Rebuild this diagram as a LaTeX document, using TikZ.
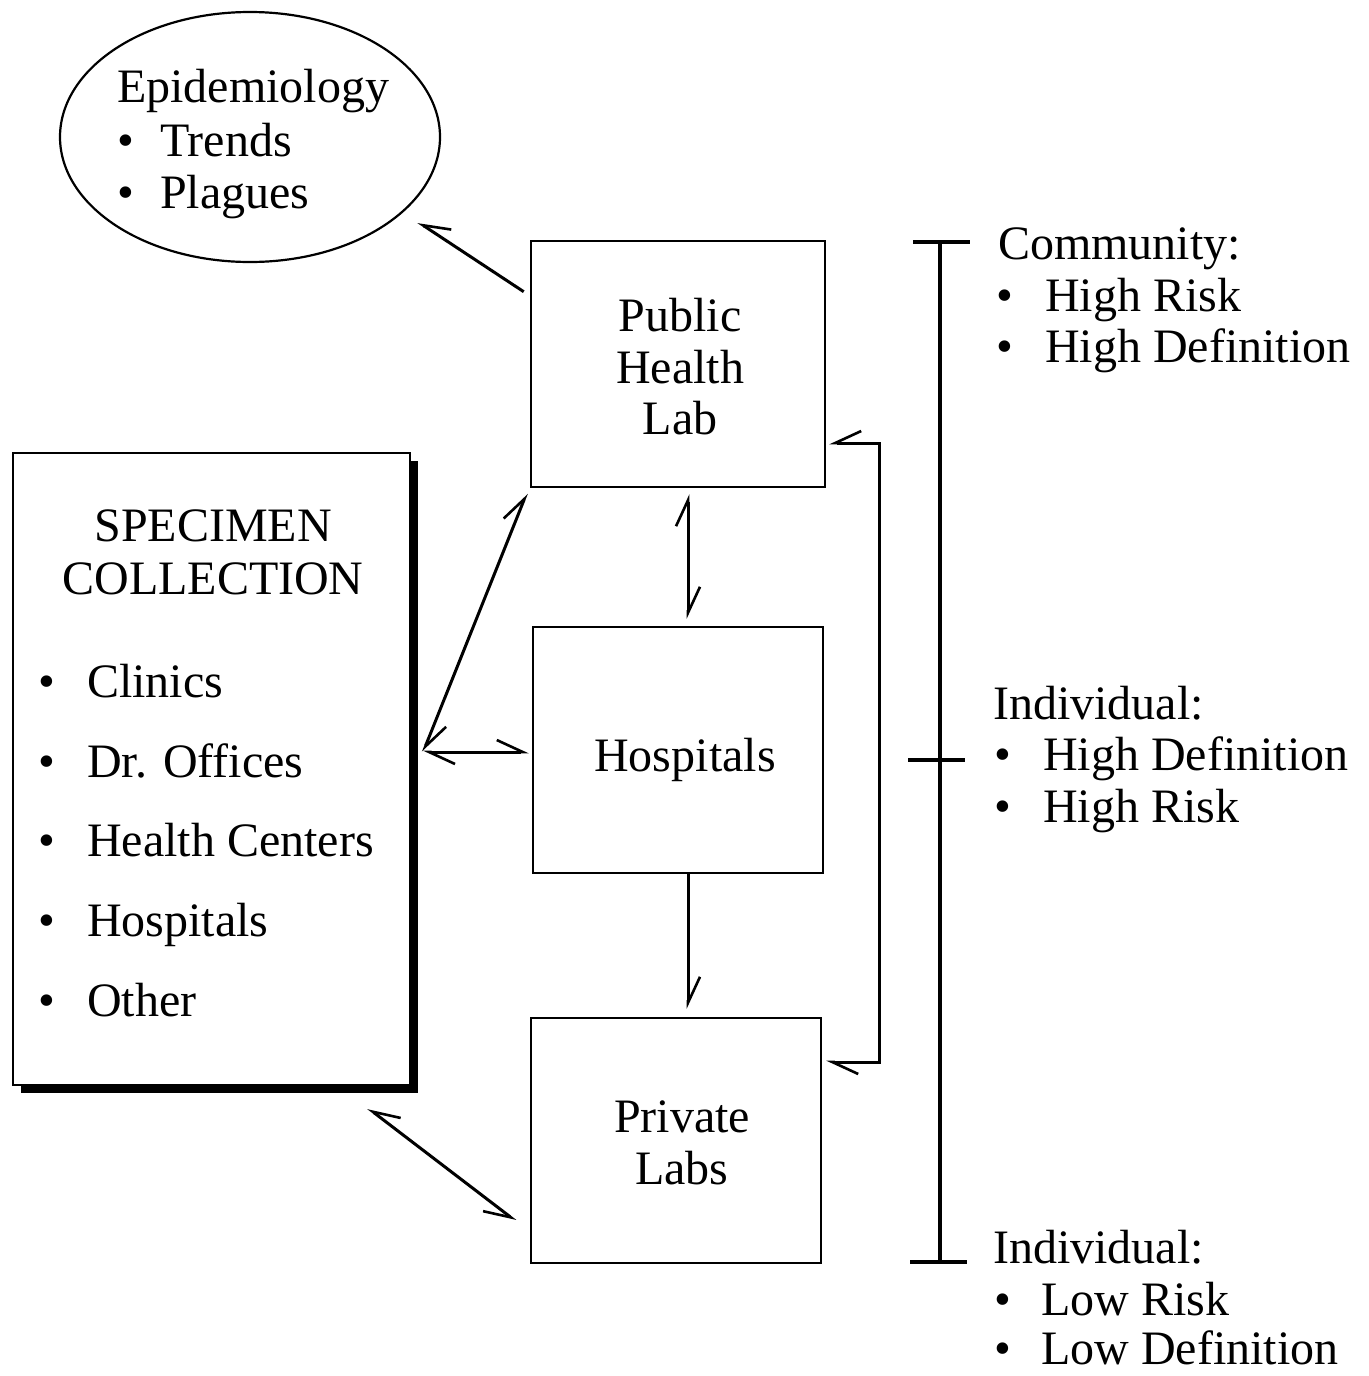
\documentclass[tikz,border=0pt]{standalone}
\usepackage{fontspec}
\setmainfont{Liberation Serif}
\usetikzlibrary{arrows.meta,shapes.geometric,shadows}
\tikzset{
  box/.style={draw, line width=2.6pt, rectangle, inner sep=0pt, fill=white},
  txt/.style={inner sep=0pt, anchor=base},
  ltxt/.style={inner sep=0pt, anchor=base west},
  conn/.style={line width=3pt},
  hl/.tip={Straight Barb[harpoon, length=26pt, width=24pt, line width=2.6pt]},
  hr/.tip={Straight Barb[harpoon, swap, length=26pt, width=24pt, line width=2.6pt]},
}
\newcommand{\bulitem}[2]{\makebox[#1][l]{\textbullet}#2}
\begin{document}
\begin{tikzpicture}[x=1pt, y=-1pt, font=\fontsize{48}{52}\selectfont]
\useasboundingbox (0,0) rectangle (1368,1376);
\fill[white] (0,0) rectangle (1368,1376);

% Epidemiology ellipse
\node[ellipse, draw, line width=2.2pt, minimum width=380pt, minimum height=250pt, inner sep=0pt] (epi) at (250,137) {};
\node[ltxt] (epi1) at (117,102) {Epidemiology};
\node[ltxt] (epi2) at (117,156) {\bulitem{43pt}{Trends}};
\node[ltxt] (epi3) at (117,208) {\bulitem{43pt}{Plagues}};

% central boxes
\node[box, minimum width=294pt, minimum height=246pt] (phl) at (678,364) {};
\node[txt] (phl1) at (680,331) {Public};
\node[txt] (phl2) at (680,383) {Health};
\node[txt] (phl3) at (680,434) {Lab};

\node[box, minimum width=290pt, minimum height=246pt] (hosp) at (678,750) {};
\node[txt] (hosp1) at (685,771) {Hospitals};

\node[box, minimum width=290pt, minimum height=245pt] (priv) at (676,1140.5) {};
\node[txt] (priv1) at (682,1132) {Private};
\node[txt] (priv2) at (682,1184) {Labs};

% specimen collection box with shadow
\node[box, line width=2.2pt, minimum width=397pt, minimum height=632pt,
  drop shadow={shadow xshift=8pt, shadow yshift=-8pt, fill=black, opacity=1}] (spec) at (211.5,769) {};
\node[txt] (spec1) at (213,541) {SPECIMEN};
\node[txt] (spec2) at (213,594) {COLLECTION};
\node[ltxt] (s1) at (38,697) {\bulitem{49pt}{Clinics}};
\node[ltxt] (s2) at (38,777) {\bulitem{49pt}{Dr. Offices}};
\node[ltxt] (s3) at (38,856) {\bulitem{49pt}{Health Centers}};
\node[ltxt] (s4) at (38,936) {\bulitem{49pt}{Hospitals}};
\node[ltxt] (s5) at (38,1016) {\bulitem{49pt}{Other}};

% connectors
\draw[conn, -hr] ([shift={(-6,52)}]phl.north west) -- ([shift={(168,85)}]epi.center);
\draw[conn, hl-hl] ([shift={(12,-17)}]spec.east) -- ([shift={(-3,5)}]phl.south west);
\draw[conn, hl-hl] ([shift={(12,-17)}]spec.east) -- ([shift={(-3,2)}]hosp.west);
\draw[conn, hl-hl] ([shift={(10,6)}]phl.south) -- ([shift={(10,-7)}]hosp.north);
\draw[conn, -hl] ([shift={(10,0)}]hosp.south) -- ([shift={(12,-8)}]priv.north);
\draw[conn, hr-hr] ([shift={(156.5,22)}]spec.south) -- ([shift={(-14,80.5)}]priv.west);
\draw[conn, hr-hl] ([shift={(3,79)}]phl.east) -- ++(50,0) |- ([shift={(4,-78.5)}]priv.east);

% scale bar
\coordinate (st) at (940,242);
\coordinate (sm) at (940,760);
\coordinate (sb) at (940,1262);
\draw[line width=4pt] (st) -- (sb);
\draw[line width=4pt] ([xshift=-27]st) -- ([xshift=30]st);
\draw[line width=4pt] ([xshift=-32]sm) -- ([xshift=25]sm);
\draw[line width=4pt] ([xshift=-30]sb) -- ([xshift=27]sb);

% right labels
\node[ltxt] (c1) at (998,259) {Community:};
\node[ltxt] (c2) at (996,311) {\bulitem{49pt}{High Risk}};
\node[ltxt] (c3) at (996,362) {\bulitem{49pt}{High Definition}};

\node[ltxt] (i1) at (993,719) {Individual:};
\node[ltxt] (i2) at (994,770) {\bulitem{49pt}{High Definition}};
\node[ltxt] (i3) at (994,822) {\bulitem{49pt}{High Risk}};

\node[ltxt] (j1) at (993,1263) {Individual:};
\node[ltxt] (j2) at (994,1315) {\bulitem{47pt}{Low Risk}};
\node[ltxt] (j3) at (994,1364) {\bulitem{47pt}{Low Definition}};
\end{tikzpicture}
\end{document}
